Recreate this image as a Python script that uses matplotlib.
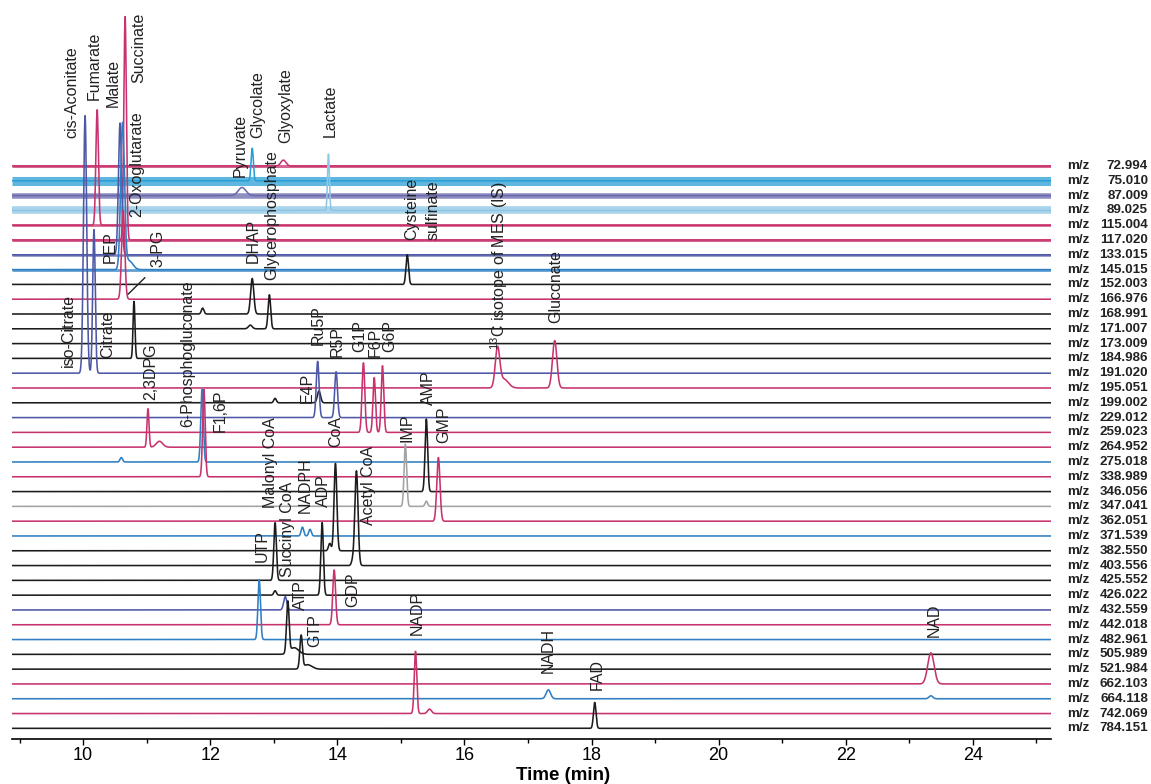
import numpy as np
import matplotlib
matplotlib.use("Agg")
import matplotlib.pyplot as plt
import matplotlib.transforms as mtransforms

plt.rcParams['font.family'] = ['Liberation Sans', 'DejaVu Sans']
plt.rcParams['mathtext.default'] = 'regular'

# m/z channels, top to bottom
mz = ["72.994", "75.010", "87.009", "89.025", "115.004", "117.020", "133.015",
      "145.015", "152.003", "166.976", "168.991", "171.007", "173.009", "184.986",
      "191.020", "195.051", "199.002", "229.012", "259.023", "264.952", "275.018",
      "338.989", "346.056", "347.041", "362.051", "371.539", "382.550", "403.556",
      "425.552", "426.022", "432.559", "442.018", "482.961", "505.989", "521.984",
      "662.103", "664.118", "742.069", "784.151"]

MAG, BLK, BLU, PUR = "#c8336e", "#1c1c1c", "#2f7fc2", "#4f58a6"
trace_color = [MAG, "#2a9fd6", "#6a6aae", "#8ec6e6", MAG, MAG, PUR, BLU, BLK, MAG,
               BLK, BLK, BLK, BLK, PUR, MAG, BLK, PUR, MAG, MAG, BLU, MAG, BLK,
               "#a3a3a3", MAG, BLU, BLK, BLK, BLK, BLK, PUR, MAG, BLU, BLK, BLK,
               MAG, BLU, MAG, BLK]
# baseline noise band height (pt); 0 = quiet channel
trace_noise = [2.2, 6.5, 4.0, 5.5, 2.0, 2.2, 1.8, 2.0] + [0] * 31

# peaks: channel index, migration time (min), height (in channel spacings), width (min)
peak_trace = [0, 1, 2, 3, 4, 5, 6, 7, 7, 8, 9, 13, 10, 11, 11, 10, 14, 14,
              19, 19, 20, 21, 20, 16, 17, 17, 18, 18, 18, 15, 15, 15, 16,
              28, 26, 26, 27, 27, 23, 23, 22, 24, 25, 25, 32, 30, 33, 33,
              34, 34, 29, 31, 29, 37, 37, 36, 38, 35, 36]
peak_time = [13.15, 12.66, 12.50, 13.86, 10.22, 10.66, 10.58, 10.62, 10.72, 15.10,
             10.63, 10.80, 12.66, 12.63, 12.93, 11.88, 10.03, 10.17,
             11.02, 11.20, 10.60, 11.90, 11.87, 13.71, 13.69, 13.98, 14.41, 14.58,
             14.71, 16.52, 16.62, 17.42, 13.02,
             13.02, 13.97, 13.88, 14.30, 14.24, 15.07, 15.40, 15.40, 15.59, 13.45,
             13.57, 12.77, 13.18, 13.22, 13.32,
             13.43, 13.53, 13.76, 13.95, 13.02, 15.23, 15.45, 17.32, 18.05, 23.34, 23.34]
peak_height = [0.4, 2.2, 0.55, 3.8, 7.8, 15.1, 8.9, 9.8, 0.6, 2.0,
               6.0, 3.85, 2.4, 0.25, 2.3, 0.4, 17.4, 9.7,
               2.6, 0.4, 0.3, 5.9, 4.9, 0.8, 3.8, 3.1, 4.7, 3.7,
               4.5, 2.6, 0.6, 3.2, 0.3,
               3.9, 5.9, 0.5, 6.4, 0.3, 4.2, 0.35, 4.9, 4.3, 0.6,
               0.45, 4.05, 0.9, 3.45, 0.45,
               2.2, 0.3, 4.9, 3.7, 0.3, 4.2, 0.3, 0.6, 1.75, 2.1, 0.2]
peak_width = [0.04, 0.018, 0.06, 0.015, 0.02, 0.02, 0.025, 0.03, 0.06, 0.02,
              0.025, 0.015, 0.025, 0.03, 0.02, 0.02, 0.025, 0.02,
              0.016, 0.05, 0.02, 0.02, 0.02, 0.025, 0.022, 0.022, 0.022, 0.02,
              0.02, 0.035, 0.07, 0.035, 0.02,
              0.02, 0.022, 0.02, 0.025, 0.02, 0.02, 0.02, 0.02, 0.025, 0.02,
              0.02, 0.02, 0.025, 0.02, 0.07,
              0.02, 0.07, 0.02, 0.022, 0.02, 0.02, 0.03, 0.035, 0.02, 0.05, 0.03]

# compound names: text, time position, vertical position (channel units)
label_text = ["cis-Aconitate", "Fumarate", "Malate", "Succinate", "2-Oxoglutarate",
              "PEP", "3-PG", "iso-Citrate", "Citrate", "2,3DPG", "6-Phosphogluconate",
              "F1,6P", "Pyruvate", "Glycolate", "Glyoxylate", "Lactate", "DHAP",
              "Glycerophosphate", "Cysteine", "sulfinate", r"$^{13}$C isotope of MES (IS)",
              "Gluconate", "Ru5P", "R5P", "G1P", "F6P", "G6P", "E4P", "CoA",
              "Malonyl CoA", "Succinyl CoA", "NADPH", "ADP", "Acetyl CoA", "IMP",
              "AMP", "GMP", "UTP", "ATP", "GDP", "GTP", "NADP", "NADH", "FAD", "NAD"]
label_t = [9.83, 10.17, 10.47, 10.88, 10.85, 10.43, 11.17, 9.76, 10.39, 11.06, 11.65,
           12.16, 12.47, 12.74, 13.18, 13.89, 12.68, 12.96, 15.17, 15.50, 16.54,
           17.43, 13.70, 14.00, 14.35, 14.60, 14.82, 13.53, 13.97, 12.95, 13.21,
           13.50, 13.78, 14.49, 15.10, 15.43, 15.67, 12.82, 13.42, 14.24, 13.65,
           15.26, 17.32, 18.09, 23.39]
label_y = [1.89, 4.46, 3.99, 5.61, -3.45, -6.55, -6.82, -13.58, -12.97, -15.81, -17.64,
           -17.97, -0.74, 1.89, 1.55, 1.96, -6.55, -7.70, -5.0, -5.0, -12.43,
           -10.61, -12.09, -12.91, -12.57, -12.91, -12.57, -16.01, -18.99, -23.11, -27.77,
           -23.45, -23.04, -24.26, -18.65, -16.15, -18.72, -26.76, -30.0, -29.8, -32.5,
           -31.69, -34.26, -35.41, -31.82]

t = np.arange(8.88, 25.23, 0.002)

fig = plt.figure(figsize=(11.51, 7.84), dpi=100)
ax = fig.add_axes([12 / 1151, 45 / 784, 1039 / 1151, 739 / 784])

for i, name in enumerate(mz):
    y = np.full_like(t, -float(i))
    for tr, c, h, w in zip(peak_trace, peak_time, peak_height, peak_width):
        if tr == i:
            y += h * np.exp(-0.5 * ((t - c) / w) ** 2)
    if trace_noise[i] > 0:
        # noisy baseline drawn as a band of its noise height
        ax.plot([t[0], t[-1]], [-i, -i], color=trace_color[i], lw=trace_noise[i],
                alpha=0.75, solid_capstyle='butt')
    ax.plot(t, y, color=trace_color[i], lw=1.15, solid_capstyle='butt')

for txt, tx, ty in zip(label_text, label_t, label_y):
    ax.text(tx, ty, txt, rotation=90, ha='center', va='bottom', fontsize=11.5, color='#222222')

# pointer from 3-PG label to its peak
k = peak_trace.index(13)
ax.plot([peak_time[k] - 0.09, peak_time[k] + 0.17],
        [-13 + peak_height[k] + 0.5, -13 + peak_height[k] + 1.6], color='#222222', lw=1)

# channel labels on the right
tr_lab = mtransforms.blended_transform_factory(fig.transFigure, ax.transData)
for i, name in enumerate(mz):
    ax.text(1067 / 1151, -i, "m/z", transform=tr_lab, ha='left', va='center',
            fontsize=9.6, fontweight='bold', color='#222222', clip_on=False)
    ax.text(1148 / 1151, -i, name, transform=tr_lab, ha='right', va='center',
            fontsize=9.6, fontweight='bold', color='#222222', clip_on=False)

ax.set_xlim(8.88, 25.23)
ax.set_ylim(-38.72, 11.22)
for s in ['left', 'right', 'top']:
    ax.spines[s].set_visible(False)
ax.spines['bottom'].set_linewidth(1.2)
ax.set_yticks([])
ax.set_xticks(np.arange(10, 25, 2))
ax.set_xticks(np.arange(9, 26, 2), minor=True)
ax.tick_params(axis='x', which='major', length=4, width=1, labelsize=13, pad=1.5)
ax.tick_params(axis='x', which='minor', length=3, width=1)
fig.text(563 / 1151, 1 - 776 / 784, "Time (min)", ha='center', va='center',
         fontsize=13.5, fontweight='bold')

fig.savefig("out.png", dpi=100)
